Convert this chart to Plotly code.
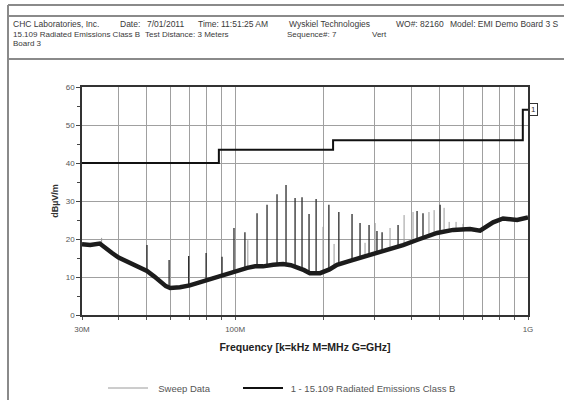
import numpy as np
import plotly.graph_objects as go

# ---------------- data ----------------
# Sweep noise floor (MHz, dBuV/m)
sweep_freq = [30, 32, 34.5, 36, 38, 40, 43.8, 47, 50, 53, 55.4, 58, 60, 64.8, 70, 74.1,
              80, 84, 90, 96, 103, 110, 117, 124.5, 135, 145.8, 155, 162.7, 172, 180,
              195, 210, 222.8, 245, 273.4, 300, 338, 374.5, 420, 489, 555, 634, 686,
              730, 760, 822, 918, 1000]
sweep_level = [18.6, 18.4, 18.8, 17.6, 16.3, 15.1, 13.7, 12.4, 11.6, 10.1, 8.8, 7.6, 7.1, 7.3, 7.8, 8.4,
               9.2, 9.7, 10.3, 11.0, 11.7, 12.4, 12.8, 12.8, 13.2, 13.4, 13.1, 12.6, 11.8, 11.0,
               11.0, 12.0, 13.2, 14.2, 15.3, 16.2, 17.3, 18.4, 19.8, 21.6, 22.4, 22.6, 22.2,
               23.4, 24.4, 25.4, 25.0, 25.7]

# Strong emission spikes: frequency, peak, floor at that frequency
spike_freq = [50, 59.5, 69.4, 79.6, 90.2, 99.1, 108, 118.8, 128.5, 139, 149.2, 160.2, 169.2,
              178.8, 189, 209, 226, 250.7, 267, 286.6, 305, 317.5, 360, 418, 438, 501]
spike_peak = [18.4, 14.5, 15.5, 16.3, 15.3, 22.9, 21.8, 26.8, 29.0, 31.8, 34.2, 30.8, 31.0,
              26.6, 30.5, 29.0, 27.1, 26.6, 24.2, 23.7, 22.1, 21.8, 23.7, 27.4, 26.8, 29.0]
spike_base = [11.6, 7.1, 7.6, 9.0, 10.3, 11.0, 12.2, 12.8, 12.9, 13.2, 13.3, 12.8, 12.0,
              11.1, 11.0, 12.0, 13.3, 14.4, 15.1, 15.8, 16.4, 16.8, 18.0, 19.7, 20.3, 21.8]

# Weaker (grey) spikes
lspike_freq = [35, 110.5, 199.6, 217.7, 277.7, 300.5, 338, 377.5, 405, 459, 478, 517, 538, 568, 600]
lspike_peak = [20.3, 19.7, 23.2, 18.7, 19.0, 24.2, 22.9, 26.3, 27.1, 27.1, 27.6, 28.2, 24.5, 24.5, 24.0]
lspike_base = [18.8, 12.4, 11.5, 12.8, 15.5, 16.2, 17.3, 18.5, 19.3, 20.8, 21.3, 22.0, 22.2, 22.3, 22.5]

# FCC 15.109 Class B limit
limit_freq = [30, 88, 216, 960, 1000]
limit_level = [40, 43.5, 46, 54, 54]

x_tickvals = [30, 40, 50, 60, 70, 80, 90, 100, 200, 300, 400, 500, 600, 700, 800, 900, 1000]
x_ticktext = ["30M", "", "", "", "", "", "", "100M", "", "", "", "", "", "", "", "", "1G"]
y_tickvals = [0, 10, 20, 30, 40, 50, 60]

# ---------------- layout geometry ----------------
W, H = 564, 400
L, R, T, B = 82, 528, 87, 315


def px(x):
    return (x - L) / (R - L)


def py(y):
    return (B - y) / (B - T)


FONT = "Liberation Sans, Arial, sans-serif"
NB = "\u00a0"


def segs(xs, y0s, y1s):
    X, Y = [], []
    for f, a, b in zip(xs, y0s, y1s):
        X += [f, f, None]
        Y += [a, b, None]
    return X, Y


fig = go.Figure()

lx, ly = segs(lspike_freq, lspike_base, lspike_peak)
fig.add_trace(go.Scatter(x=lx, y=ly, mode="lines", name=NB * 2 + "Sweep Data", legend="legend",
                         line=dict(color="#9a9a9a", width=1), showlegend=True))
sx, sy = segs(spike_freq, spike_base, spike_peak)
fig.add_trace(go.Scatter(x=sx, y=sy, mode="lines", line=dict(color="#2a2a2a", width=1.3),
                         showlegend=False))
fig.add_trace(go.Scatter(x=sweep_freq, y=sweep_level, mode="lines",
                         line=dict(color="#1c1c1c", width=4.5), showlegend=False))
fig.add_trace(go.Scatter(x=limit_freq, y=limit_level, mode="lines", legend="legend2",
                         name=NB + "1 - 15.109 Radiated Emissions Class B",
                         line=dict(color="#111111", width=2, shape="hv")))

shapes = []
frame_col = "#8a8a8a"
shapes.append(dict(type="line", xref="paper", yref="paper", x0=px(8), x1=px(8), y0=py(5), y1=py(400),
                   line=dict(color=frame_col, width=2)))
for yy in (5, 16, 59):
    shapes.append(dict(type="line", xref="paper", yref="paper", x0=px(8), x1=px(566), y0=py(yy), y1=py(yy),
                       line=dict(color=frame_col, width=2)))

annotations = []
hdr = [
    ("CHC Laboratories, Inc.", 11, 24, "left", 8.5), ("Date:", 118, 24, "left", 8.5),
    ("7/01/2011", 145, 24, "left", 8.5),
    ("Time:", 196, 24, "left", 8.5), ("11:51:25 AM", 219, 24, "left", 8.5),
    ("Wyskiel Technologies", 287, 24, "left", 8.5), ("WO#: 82160", 394, 24, "left", 8.5),
    ("Model: EMI Demo Board 3 S", 561, 24, "right", 8.5),
    ("15.109 Radiated Emissions Class B", 11, 34, "left", 8), ("Test Distance: 3 Meters", 143, 34, "left", 8),
    ("Sequence#: 7", 285, 34, "left", 8), ("Vert", 370, 34, "left", 8),
    ("Board 3", 11, 43, "left", 8),
]
for txt, x, y, anc, fs in hdr:
    annotations.append(dict(text=txt, xref="paper", yref="paper", x=px(x), y=py(y), xanchor=anc,
                            yanchor="middle", showarrow=False, font=dict(family=FONT, size=fs, color="#3a3a3a")))

annotations.append(dict(text="1", xref="x", yref="y", x=np.log10(1000), y=54, xanchor="left", yanchor="middle",
                        xshift=1, showarrow=False, bordercolor="#333", borderwidth=1, borderpad=1,
                        bgcolor="white", font=dict(family=FONT, size=8, color="#333")))

leg_common = dict(orientation="h", yanchor="middle", xanchor="left", itemwidth=40,
                  font=dict(family=FONT, size=9.5, color="#555"), bgcolor="rgba(0,0,0,0)")

fig.update_layout(
    width=W, height=H,
    margin=dict(l=L, r=W - R, t=T, b=H - B, autoexpand=False),
    paper_bgcolor="white", plot_bgcolor="white",
    font=dict(family=FONT, size=8, color="#444"),
    shapes=shapes, annotations=annotations,
    legend=dict(x=px(103), y=py(388), **leg_common),
    legend2=dict(x=px(238), y=py(388), **leg_common),
)
fig.update_xaxes(type="log", range=[np.log10(30), 3], tickvals=x_tickvals, ticktext=x_ticktext,
                 showgrid=True, gridcolor="#a0a0a0", gridwidth=1, showline=True, linecolor="#333",
                 linewidth=1.5, mirror=True, ticks="outside", ticklen=3, tickcolor="#555",
                 ticklabelstandoff=3,
                 tickfont=dict(size=8, color="#555"), zeroline=False,
                 title=dict(text="<b>Frequency [k=kHz M=MHz G=GHz]</b>", standoff=10,
                            font=dict(size=10.5, color="#222")))
fig.update_yaxes(range=[0, 60], tickvals=y_tickvals, showgrid=True, gridcolor="#a0a0a0", gridwidth=1,
                 showline=True, linecolor="#333", linewidth=1.5, mirror=True, ticks="outside", ticklen=4,
                 tickcolor="#444", tickfont=dict(size=8, color="#555"), zeroline=False,
                 minor=dict(dtick=5, ticks="outside", ticklen=3, tickcolor="#444", showgrid=False),
                 title=dict(text="<b>dBµV/m</b>", standoff=6, font=dict(size=9, color="#333")))

fig.write_html("out.html")
